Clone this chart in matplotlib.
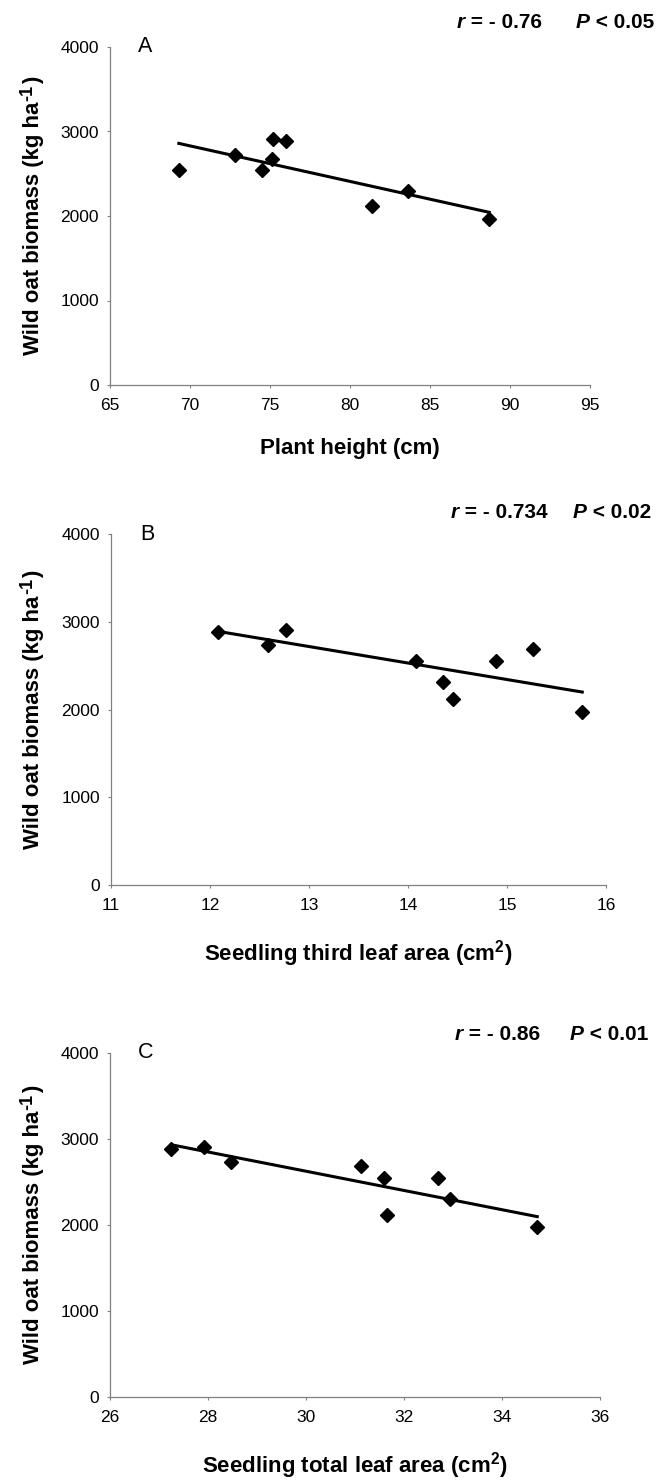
import numpy as np
import matplotlib.pyplot as plt

plt.rcParams['font.family'] = ['Liberation Sans', 'DejaVu Sans']
plt.rcParams['mathtext.fontset'] = 'custom'
plt.rcParams['mathtext.rm'] = 'Liberation Sans'
plt.rcParams['mathtext.it'] = 'Liberation Sans:italic'
plt.rcParams['mathtext.bf'] = 'Liberation Sans:bold'

# =========================
# Data
# =========================
height_cm = [69.3, 72.8, 74.5, 75.1, 75.2, 76.0, 81.4, 83.6, 88.7]
biomass_a = [2550, 2719, 2542, 2680, 2908, 2885, 2120, 2294, 1970]

third_leaf_cm2 = [12.08, 12.59, 12.77, 14.08, 14.35, 14.45, 14.89, 15.26, 15.76]
biomass_b = [2886, 2730, 2909, 2548, 2308, 2122, 2555, 2688, 1977]

total_leaf_cm2 = [27.25, 27.92, 28.47, 31.13, 31.60, 31.66, 32.69, 32.94, 34.72]
biomass_c = [2885, 2909, 2729, 2682, 2545, 2119, 2545, 2299, 1978]

r_values = ['- 0.76', '- 0.734', '- 0.86']
p_values = ['< 0.05', '< 0.02', '< 0.01']
letters = ['A', 'B', 'C']
xlabels = ['Plant height (cm)',
           r'Seedling third leaf area (cm$^{\mathbf{2}}$)',
           r'Seedling total leaf area (cm$^{\mathbf{2}}$)']
x_ranges = [(65, 95, 5), (11, 16, 1), (26, 36, 2)]
y_ticks = [0, 1000, 2000, 3000, 4000]

# =========================
# Layout (pixels)
# =========================
W, H = 661, 1481
# left, top, right, bottom of each axes box
boxes = [(110, 47, 590, 385), (111, 534, 606, 885), (110, 1053, 600, 1397)]
stat_pos = [(457, 576, 22), (451, 573, 513), (455, 570, 1034)]  # r x, P x, y

fig = plt.figure(figsize=(W / 100, H / 100), dpi=100)

series = [(height_cm, biomass_a), (third_leaf_cm2, biomass_b), (total_leaf_cm2, biomass_c)]
spine_col = '#808080'
bold = dict(fontweight='bold')

for i, (xs, ys) in enumerate(series):
    l, t, r, b = boxes[i]
    ax = fig.add_axes([l / W, 1 - b / H, (r - l) / W, (b - t) / H])
    xs = np.array(xs)
    ys = np.array(ys)

    # regression line over the data range
    slope, icpt = np.polyfit(xs, ys, 1)
    xl = np.array([xs.min(), xs.max()])
    ax.plot(xl, slope * xl + icpt, color='black', lw=2.2, zorder=2)
    ax.plot(xs, ys, 'D', color='black', ms=7, zorder=3)

    x0, x1, step = x_ranges[i]
    ax.set_xlim(x0, x1)
    ax.set_ylim(0, 4000)
    ax.set_xticks(np.arange(x0, x1 + step / 2, step))
    ax.set_yticks(y_ticks)

    for s in ['top', 'right']:
        ax.spines[s].set_visible(False)
    for s in ['left', 'bottom']:
        ax.spines[s].set_color(spine_col)
        ax.spines[s].set_linewidth(0.9)
    ax.tick_params(direction='out', length=2.5, width=0.8, color=spine_col,
                   labelsize=12.5, labelcolor='black')
    ax.tick_params(axis='x', pad=7)
    ax.tick_params(axis='y', pad=5.5)

    axh = b - t
    ax.set_xlabel(xlabels[i], fontsize=16, **bold)
    ax.xaxis.set_label_coords(0.5, -53 / axh)

    # y label built from pieces so the superscript can be large
    yc = (t + b) / 2
    y1 = fig.text(44 / W, 1 - (yc + 139) / H, 'Wild oat biomass (kg ha',
                  rotation=90, ha='right', va='bottom', fontsize=16, **bold)
    sup = ax.annotate('-1', xy=(0, 1), xycoords=y1, xytext=(-3, 0.5),
                      textcoords='offset points', rotation=90, ha='left',
                      va='bottom', fontsize=13, **bold)
    ax.annotate(')', xy=(1, 1), xycoords=(y1, sup), xytext=(0, 0.5),
                textcoords='offset points', rotation=90, ha='right',
                va='bottom', fontsize=16, **bold)

    ax.text(0.073, 1.0, letters[i], transform=ax.transAxes, fontsize=15.5,
            ha='center', va='center')

    rx, px, ty = stat_pos[i]
    t1 = fig.text(rx / W, 1 - ty / H, 'r', fontsize=15, style='italic',
                  va='center', ha='left', **bold)
    ax.annotate(' = ' + r_values[i], xy=(1, 0), xycoords=t1, fontsize=15,
                va='bottom', ha='left', **bold)
    t2 = fig.text(px / W, 1 - ty / H, 'P', fontsize=15, style='italic',
                  va='center', ha='left', **bold)
    ax.annotate(' ' + p_values[i], xy=(1, 0), xycoords=t2, fontsize=15,
                va='bottom', ha='left', **bold)

plt.savefig('out.png', dpi=100)
